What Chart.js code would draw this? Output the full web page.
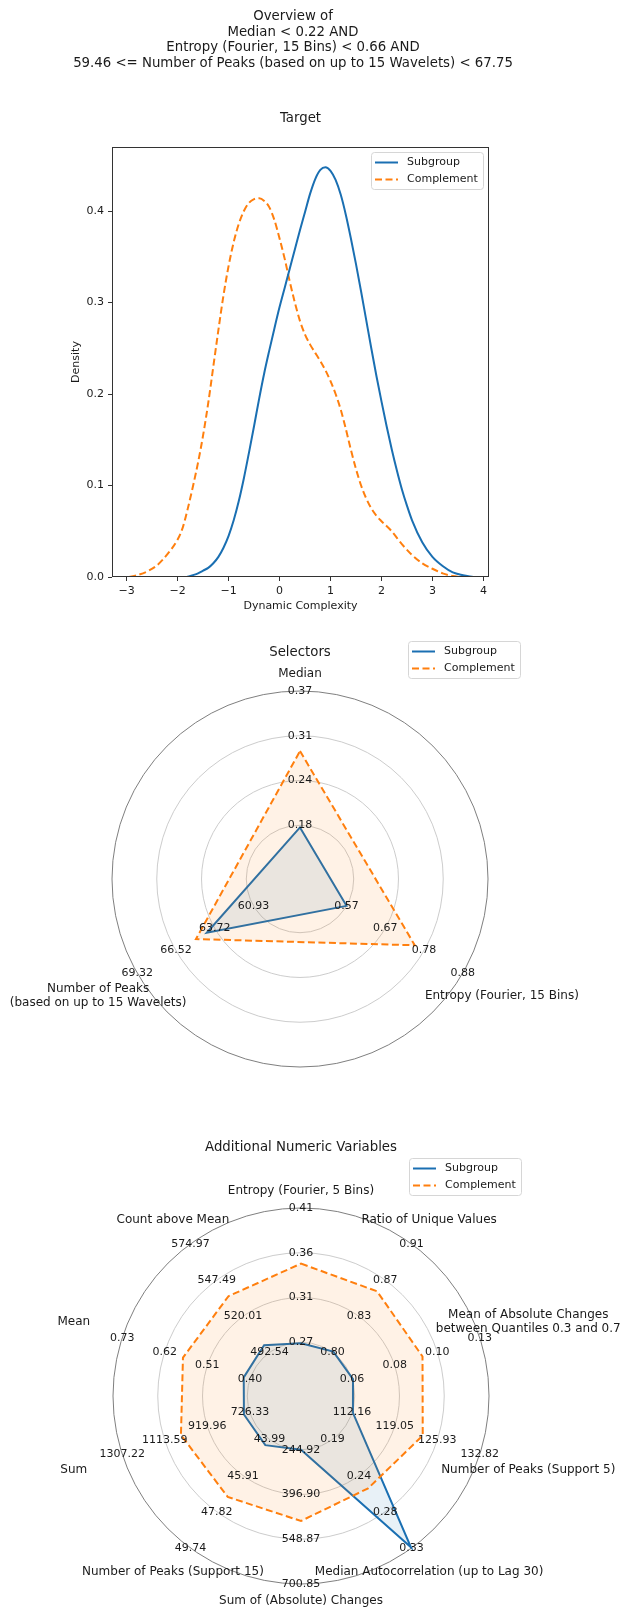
<!DOCTYPE html>
<html>
<head>
<meta charset="utf-8">
<script src="https://cdn.jsdelivr.net/npm/chart.js@4.4.1/dist/chart.umd.min.js"></script>
<style>
    html, body { margin: 0; padding: 0; background: #fff; }
    body { width: 620px; height: 1607px; position: relative; overflow: hidden; }
    canvas { position: absolute; left: 0; }
</style>
</head>
<body>
<canvas id="target" width="620" height="625" style="top:0px"></canvas>
<canvas id="selectors" width="620" height="485" style="top:625px"></canvas>
<canvas id="additional" width="620" height="497" style="top:1110px"></canvas>
<script>
// ---- data ----
const suptitle = [
    'Overview of',
    'Median < 0.22 AND',
    'Entropy (Fourier, 15 Bins) < 0.66 AND',
    '59.46 <= Number of Peaks (based on up to 15 Wavelets) < 67.75'
];

// density curves (Target)
const subX = [-1.82, -1.7, -1.6, -1.5, -1.4, -1.3, -1.2, -1.1, -1.0, -0.9, -0.8, -0.7, -0.6, -0.5, -0.4, -0.3, -0.2, -0.1, 0.0, 0.1, 0.2, 0.3, 0.4, 0.5, 0.6, 0.7, 0.8, 0.9, 1.0, 1.1, 1.2, 1.3, 1.4, 1.5, 1.6, 1.7, 1.8, 1.9, 2.0, 2.1, 2.2, 2.3, 2.4, 2.5, 2.6, 2.8, 3.0, 3.2, 3.4, 3.6, 3.8];
const subY = [0.000, 0.002, 0.004, 0.007, 0.010, 0.015, 0.022, 0.032, 0.045, 0.062, 0.083, 0.108, 0.136, 0.165, 0.195, 0.223, 0.248, 0.272, 0.295, 0.316, 0.337, 0.358, 0.379, 0.399, 0.419, 0.435, 0.445, 0.448, 0.444, 0.434, 0.418, 0.396, 0.370, 0.342, 0.312, 0.281, 0.250, 0.220, 0.192, 0.165, 0.140, 0.117, 0.096, 0.078, 0.062, 0.038, 0.022, 0.012, 0.005, 0.002, 0.000];
const compX = [-2.95, -2.8, -2.6, -2.4, -2.2, -2.0, -1.9, -1.8, -1.7, -1.6, -1.5, -1.4, -1.3, -1.2, -1.1, -1.0, -0.9, -0.8, -0.7, -0.6, -0.5, -0.4, -0.3, -0.2, -0.1, 0.0, 0.1, 0.2, 0.3, 0.4, 0.5, 0.6, 0.7, 0.8, 0.9, 1.0, 1.1, 1.2, 1.3, 1.4, 1.5, 1.6, 1.7, 1.8, 1.9, 2.0, 2.2, 2.4, 2.6, 2.8, 3.0, 3.2, 3.4, 3.55];
const compY = [0.000, 0.002, 0.006, 0.013, 0.025, 0.041, 0.054, 0.075, 0.099, 0.125, 0.155, 0.190, 0.230, 0.270, 0.308, 0.340, 0.366, 0.386, 0.400, 0.409, 0.413, 0.414, 0.411, 0.404, 0.390, 0.370, 0.348, 0.323, 0.300, 0.280, 0.265, 0.254, 0.245, 0.236, 0.226, 0.214, 0.200, 0.183, 0.162, 0.139, 0.118, 0.100, 0.086, 0.075, 0.067, 0.061, 0.050, 0.036, 0.024, 0.015, 0.009, 0.004, 0.001, 0.000];
const xTicks = [-3, -2, -1, 0, 1, 2, 3, 4];
const yTicks = [0, 0.1, 0.2, 0.3, 0.4];

// radar rings (normalised radius) and per-axis tick labels
const ringLevels = [0.25, 0.5, 0.75, 1.0];

const selLabels = ['Median', 'Entropy (Fourier, 15 Bins)', ['Number of Peaks', '(based on up to 15 Wavelets)']];
const selTicks = [
    ['0.18', '0.24', '0.31', '0.37'],
    ['0.57', '0.67', '0.78', '0.88'],
    ['60.93', '63.72', '66.52', '69.32']
];
const selSub = [0.177, 0.570, 64.30];
const selComp = [0.285, 0.752, 65.08];

const addLabels = [
    'Entropy (Fourier, 5 Bins)',
    'Ratio of Unique Values',
    ['Mean of Absolute Changes', 'between Quantiles 0.3 and 0.7'],
    'Number of Peaks (Support 5)',
    'Median Autocorrelation (up to Lag 30)',
    'Sum of (Absolute) Changes',
    'Number of Peaks (Support 15)',
    'Sum',
    'Mean',
    'Count above Mean'
];
const addTicks = [
    ['0.27', '0.31', '0.36', '0.41'],
    ['0.80', '0.83', '0.87', '0.91'],
    ['0.06', '0.08', '0.10', '0.13'],
    ['112.16', '119.05', '125.93', '132.82'],
    ['0.19', '0.24', '0.28', '0.33'],
    ['244.92', '396.90', '548.87', '700.85'],
    ['43.99', '45.91', '47.82', '49.74'],
    ['726.33', '919.96', '1113.59', '1307.22'],
    ['0.40', '0.51', '0.62', '0.73'],
    ['492.54', '520.01', '547.49', '574.97']
];
const addSub = [0.269, 0.801, 0.0605, 112.3, 0.329, 244.9, 44.29, 753.5, 0.416, 498.1];
const addComp = [0.352, 0.862, 0.0986, 123.59, 0.253, 486.9, 47.03, 1040, 0.573, 535.3];

// ---- styling ----
const FONT = "'DejaVu Sans', sans-serif";
const TEXT = '#1a1a1a';
const BLUE = '#1a6fb2';
const ORANGE = '#ff7f0e';
const DASH = [7, 3.5];

Chart.defaults.font.family = FONT;
Chart.defaults.font.size = 11;
Chart.defaults.color = TEXT;
Chart.defaults.animation = false;

function minus(v) {
    return v < 0 ? '\u2212' + Math.abs(v) : String(v);
}

function drawLegend(ctx, x, y, datasets) {
    const w = 112, h = 37;
    ctx.save();
    ctx.beginPath();
    if (ctx.roundRect) ctx.roundRect(x + 0.5, y + 0.5, w, h, 3);
    else ctx.rect(x + 0.5, y + 0.5, w, h);
    ctx.fillStyle = 'rgba(255,255,255,0.8)';
    ctx.fill();
    ctx.strokeStyle = '#d6d6d6';
    ctx.lineWidth = 1;
    ctx.stroke();
    datasets.forEach((ds, i) => {
        const ry = y + 10.5 + i * 17;
        ctx.beginPath();
        ctx.setLineDash(ds.borderDash || []);
        ctx.strokeStyle = ds.borderColor;
        ctx.lineWidth = 2;
        ctx.moveTo(x + 4, ry);
        ctx.lineTo(x + 27, ry);
        ctx.stroke();
        ctx.setLineDash([]);
        ctx.fillStyle = TEXT;
        ctx.font = '11px ' + FONT;
        ctx.textAlign = 'left';
        ctx.textBaseline = 'middle';
        ctx.fillText(ds.label, x + 36, ry);
    });
    ctx.restore();
}

// titles, frame, legend and the per-axis radar labels
const decor = {
    id: 'decor',
    afterDatasetsDraw(chart, args, o) {
        const ctx = chart.ctx;
        const a = chart.chartArea;
        const r = chart.scales.r;
        const cx = r ? r.xCenter : (a.left + a.right) / 2;
        const top = r ? r.yCenter - r.drawingArea : a.top;
        ctx.save();
        ctx.fillStyle = TEXT;
        ctx.textAlign = 'center';
        ctx.textBaseline = 'middle';

        if (o.frame) {
            ctx.strokeStyle = '#333';
            ctx.lineWidth = 1;
            ctx.strokeRect(a.left + 0.5, a.top + 0.5, a.width - 1, a.height - 1);
        }

        if (r) {
            const n = chart.data.labels.length;
            ctx.font = '11px ' + FONT;
            o.ticks.forEach((list, i) => {
                list.forEach((txt, k) => {
                    const p = r.getPointPositionForValue(i, ringLevels[k]);
                    ctx.fillText(txt, p.x, p.y);
                });
            });
            ctx.font = '12px ' + FONT;
            chart.data.labels.forEach((lbl, i) => {
                const th = i * 2 * Math.PI / n;
                const s = Math.sin(th);
                const p = r.getPointPosition(i, r.drawingArea * (1.09 + 0.2 * s * s));
                const lines = Array.isArray(lbl) ? lbl : [lbl];
                lines.forEach((ln, j) => {
                    ctx.fillText(ln, p.x, p.y + (j - (lines.length - 1) / 2) * 14);
                });
            });
        }

        ctx.font = '13.3px ' + FONT;
        (o.suptitle || []).forEach((ln, i) => ctx.fillText(ln, 293, 17 + i * 15.5));
        ctx.fillText(o.title, cx, top - o.titleGap);

        const lx = r ? cx + 108 : a.right - 6 - 112;
        const ly = r ? top - 50 : a.top + 5;
        drawLegend(ctx, lx, ly, chart.data.datasets);
        ctx.restore();
    }
};

// ---- Target density chart ----
const tickGrid = { display: true, drawOnChartArea: false, drawTicks: true, tickLength: 4, tickColor: '#333', tickWidth: 1 };

new Chart(document.getElementById('target'), {
    type: 'line',
    data: {
        datasets: [{
            label: 'Subgroup',
            data: subX.map((x, i) => ({ x: x, y: subY[i] })),
            borderColor: BLUE,
            borderWidth: 2,
            pointRadius: 0,
            cubicInterpolationMode: 'monotone',
            fill: false
        }, {
            label: 'Complement',
            data: compX.map((x, i) => ({ x: x, y: compY[i] })),
            borderColor: ORANGE,
            borderWidth: 2,
            borderDash: DASH,
            pointRadius: 0,
            cubicInterpolationMode: 'monotone',
            fill: false
        }]
    },
    options: {
        responsive: false,
        animation: false,
        layout: { padding: { left: 0, right: 131, top: 147, bottom: 0 } },
        plugins: {
            legend: { display: false },
            tooltip: { enabled: false },
            decor: { frame: true, suptitle: suptitle, title: 'Target', titleGap: 28 }
        },
        scales: {
            x: {
                type: 'linear',
                min: -3.288,
                max: 4.11,
                afterBuildTicks: s => { s.ticks = xTicks.map(v => ({ value: v })); },
                afterFit: s => { s.height = 48; },
                ticks: { callback: v => minus(v), padding: 4, maxRotation: 0, autoSkip: false },
                grid: tickGrid,
                border: { display: false },
                title: { display: true, text: 'Dynamic Complexity', padding: { top: 0, bottom: 12.4 } }
            },
            y: {
                min: 0,
                max: 0.47,
                afterBuildTicks: s => { s.ticks = yTicks.map(v => ({ value: v })); },
                afterFit: s => { s.width = 112; },
                ticks: { callback: v => v.toFixed(1), padding: 4 },
                grid: tickGrid,
                border: { display: false },
                title: { display: true, text: 'Density', padding: { top: 69.4, bottom: 0 } }
            }
        }
    },
    plugins: [decor]
});

// ---- radar charts ----
function radar(id, labels, ticks, sub, comp, deco, padding) {
    // every axis has its own range, given by its outer tick labels
    const norm = vals => vals.map((v, i) => {
        const t0 = parseFloat(ticks[i][0]);
        const t3 = parseFloat(ticks[i][3]);
        return 0.25 + 0.75 * (v - t0) / (t3 - t0);
    });
    deco.ticks = ticks;
    return new Chart(document.getElementById(id), {
        type: 'radar',
        data: {
            labels: labels,
            datasets: [{
                label: 'Subgroup',
                data: norm(sub),
                borderColor: BLUE,
                backgroundColor: 'rgba(31,119,180,0.1)',
                borderWidth: 2,
                pointRadius: 0,
                fill: 'start',
                order: 1
            }, {
                label: 'Complement',
                data: norm(comp),
                borderColor: ORANGE,
                backgroundColor: 'rgba(255,127,14,0.1)',
                borderWidth: 2,
                borderDash: DASH,
                pointRadius: 0,
                fill: 'start',
                order: 0
            }]
        },
        options: {
            responsive: false,
            animation: false,
            layout: { padding: padding },
            elements: { line: { tension: 0 } },
            plugins: {
                legend: { display: false },
                tooltip: { enabled: false },
                decor: deco
            },
            scales: {
                r: {
                    min: -0.05,
                    max: 1,
                    startAngle: 0,
                    afterBuildTicks: s => { s.ticks = [-0.05].concat(ringLevels).map(v => ({ value: v })); },
                    ticks: { display: false },
                    pointLabels: { display: false },
                    angleLines: { display: false },
                    grid: {
                        circular: true,
                        lineWidth: 0.9,
                        color: c => (c.tick && c.tick.value === 1) ? '#707070' : '#c6c6c6'
                    }
                }
            }
        },
        plugins: [decor]
    });
}

radar('selectors', selLabels, selTicks, selSub, selComp,
    { title: 'Selectors', titleGap: 38 },
    { left: 112, right: 132, top: 66, bottom: 43 });

radar('additional', addLabels, addTicks, addSub, addComp,
    { title: 'Additional Numeric Variables', titleGap: 60 },
    { left: 113, right: 131, top: 98, bottom: 23 });
</script>
</body>
</html>
